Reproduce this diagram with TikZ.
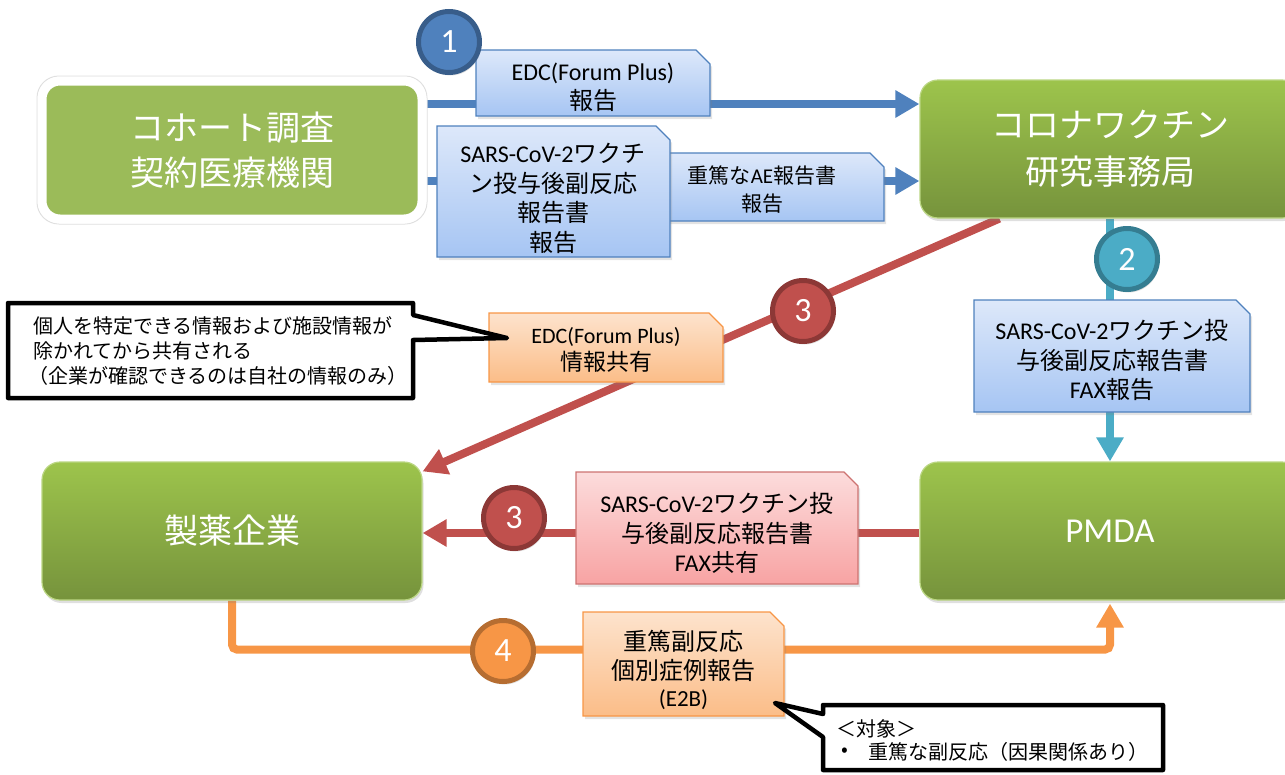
\documentclass[tikz,border=0pt]{standalone}
\usepackage{fontspec}
\setmainfont{Noto Sans CJK JP}
\newfontfamily\lat{Carlito}
\usetikzlibrary{arrows.meta,shadows,calc}
\pgfdeclarelayer{arrowlayer}
\pgfdeclarelayer{boxlayer}
\pgfsetlayers{arrowlayer,boxlayer,main}
\definecolor{gtop}{HTML}{9DC44C}
\definecolor{gbot}{HTML}{76933C}
\definecolor{gflat}{HTML}{9BBB59}
\definecolor{cblue}{HTML}{4F81BD}
\definecolor{cblueD}{HTML}{385D8A}
\definecolor{cteal}{HTML}{4BACC6}
\definecolor{ctealD}{HTML}{357D91}
\definecolor{cred}{HTML}{C0504D}
\definecolor{credD}{HTML}{8C3836}
\definecolor{corg}{HTML}{F79646}
\definecolor{corgD}{HTML}{B66D31}
\definecolor{bltop}{HTML}{DDE8FA}
\definecolor{blbot}{HTML}{A6C5F3}
\definecolor{ortop}{HTML}{FDE3CD}
\definecolor{orbot}{HTML}{FBBD88}
\definecolor{pktop}{HTML}{FCDCDC}
\definecolor{pkbot}{HTML}{F8A3A3}
\tikzset{
  softshadow/.style={drop shadow={shadow xshift=1.5pt,shadow yshift=-3pt,opacity=0.25}},
  gbox/.style={rounded corners=18pt, top color=gtop, bottom color=gbot, draw=gtop!70!white,
    line width=1.2pt, minimum width=380pt, minimum height=138pt, text=white, align=center,
    font=\fontsize{34}{46}\selectfont, softshadow},
  abox/.style={rounded corners=18pt, fill=gflat, draw=white, line width=9pt,
    minimum width=380pt, minimum height=138pt, text=white, align=center,
    font=\fontsize{34}{45}\selectfont, drop shadow={shadow xshift=1.5pt,shadow yshift=-3pt,opacity=0.18}},
  numc/.style={circle, minimum size=61pt, inner sep=0pt, line width=5pt, text=white,
    font=\lat\fontsize{34}{34}\selectfont, softshadow},
  holder/.style={inner sep=0pt, outer sep=0pt},
  ltext/.style={align=center, inner sep=0pt, text=black, font=\fontsize{24}{29.5}\selectfont},
  arr/.style={line width=8pt, -{Triangle[length=24pt,width=26pt]}},
  callout/.style={draw=black, fill=white, line width=4.5pt, line join=round},
  ctext/.style={anchor=west, inner sep=0pt, text=black, font=\fontsize{20}{25}\selectfont}
}
\newcommand{\snipbox}[4]{\path[top color=#2,bottom color=#3,draw=#4,line width=1.3pt,
  drop shadow={shadow xshift=2pt,shadow yshift=-3pt,opacity=.22}]
  (#1.south west) -- (#1.north west) -- ([xshift=-14pt]#1.north east)
  -- ([yshift=-14pt]#1.north east) -- (#1.south east) -- cycle;}
\begin{document}
\begin{tikzpicture}[x=1pt,y=-1pt]
\useasboundingbox (0,0) rectangle (1285,774);

% main green nodes
\draw[gray!25, line width=1pt, rounded corners=22pt] (37,76) rectangle (427,224);
\node[abox] (A) at (232,150) {コホート調査\\契約医療機関};
\node[gbox, font=\fontsize{34}{47}\selectfont] (B) at (1110,149) {コロナワクチン\\研究事務局};
\node[gbox] (C) at (232,531) {製薬企業};
\node[gbox, font=\lat\fontsize{35}{40}\selectfont] (D) at (1110,531) {PMDA};

% label holders
\node[holder, minimum width=234pt, minimum height=66pt] (L1) at (593,83) {};
\node[holder, minimum width=229pt, minimum height=68pt] (L3) at (769.5,187) {};
\node[holder, minimum width=233pt, minimum height=131pt] (L2) at (553.5,191.5) {};
\node[holder, minimum width=276pt, minimum height=112pt] (L4) at (1112,356) {};
\node[holder, minimum width=234pt, minimum height=69pt] (O1) at (606,347.5) {};
\node[holder, minimum width=282pt, minimum height=112pt] (P) at (717,528) {};
\node[holder, minimum width=201pt, minimum height=104pt] (O2) at (683.5,664) {};

% connectors
\begin{pgfonlayer}{arrowlayer}
\coordinate (a1) at ([yshift=46pt]A.east);
\coordinate (a2) at ([yshift=-31pt]A.east);
\draw[arr, cblue] (a1) -- (a1 -| B.west);
\draw[arr, cblue] (a2) -- (a2 -| B.west);
\draw[arr, cteal] (B.south) -- (D.north);
\draw[arr, cred] ([xshift=80pt]B.south west) -- ([yshift=-10pt]C.north east);
\draw[arr, cred] ([yshift=-2pt]D.west) -- ([yshift=-2pt]C.east);
\draw[arr, corg, rounded corners=5pt] (C.south) -- ++(0,49) -| ([yshift=-3pt]D.south);
\end{pgfonlayer}

% label shapes
\begin{pgfonlayer}{boxlayer}
\snipbox{L1}{bltop}{blbot}{cblue}
\snipbox{L3}{bltop}{blbot}{cblue}
\snipbox{L2}{bltop}{blbot}{cblue}
\snipbox{L4}{bltop}{blbot}{cblue}
\snipbox{O1}{ortop}{orbot}{corg}
\snipbox{P}{pktop}{pkbot}{cred!80!white}
\snipbox{O2}{ortop}{orbot}{corg}
\end{pgfonlayer}

% label texts
\node[ltext] (L1t) at (593,87.5) {{\lat EDC(Forum Plus)}\\報告};
\node[ltext] (L2t) at (553,198.5) {{\lat SARS-CoV-2}ワクチ\\ン投与後副反応\\報告書\\報告};
\node[ltext, font=\fontsize{21}{28}\selectfont] (L3t) at (762,190) {重篤な{\lat AE}報告書\\報告};
\node[ltext] (L4t) at (1112,360) {{\lat SARS-CoV-2}ワクチン投\\与後副反応報告書\\{\lat FAX}報告};
\node[ltext, font=\fontsize{23}{27}\selectfont] (O1t) at (606,349.5) {{\lat\fontsize{22}{27}\selectfont EDC(Forum Plus)}\\情報共有};
\node[ltext] (Pt) at (717,533) {{\lat SARS-CoV-2}ワクチン投\\与後副反応報告書\\{\lat FAX}共有};
\node[ltext] (O2t) at (683.5,656) {重篤副反応\\個別症例報告};
\node[ltext, font=\lat\fontsize{23}{25}\selectfont] (O2s) at (683.5,700) {(E2B)};

% number circles
\node[numc, fill=cblue, draw=cblueD] (n1) at (449,42) {1};
\node[numc, fill=cteal, draw=ctealD] (n2) at (1127,259) {2};
\node[numc, fill=cred, draw=credD] (n3a) at (803,311) {3};
\node[numc, fill=cred, draw=credD] (n3b) at (514,518) {3};
\node[numc, fill=corg, draw=corgD] (n4) at (503,651) {4};

% callouts
\draw[callout] (8,303) -- (413,303) -- (413,315) -- (507,338) -- (413,340) -- (413,398) -- (8,398) -- cycle;
\node[ctext] (c1a) at (33,326) {個人を特定できる情報および施設情報が};
\node[ctext] (c1b) at (33,351) {除かれてから共有される};
\node[ctext] (c1c) at (28,376) {（企業が確認できるのは自社の情報のみ）};

\draw[callout] (823,705) -- (1163,705) -- (1163,770) -- (823,770) -- (823,737) -- (775,703) -- (823,714) -- cycle;
\node[ctext] (c2a) at (836,729) {＜対象＞};
\node[ctext] (c2b) at (841,752) {•};
\node[ctext] (c2c) at (868,752) {重篤な副反応（因果関係あり）};
\end{tikzpicture}
\end{document}
